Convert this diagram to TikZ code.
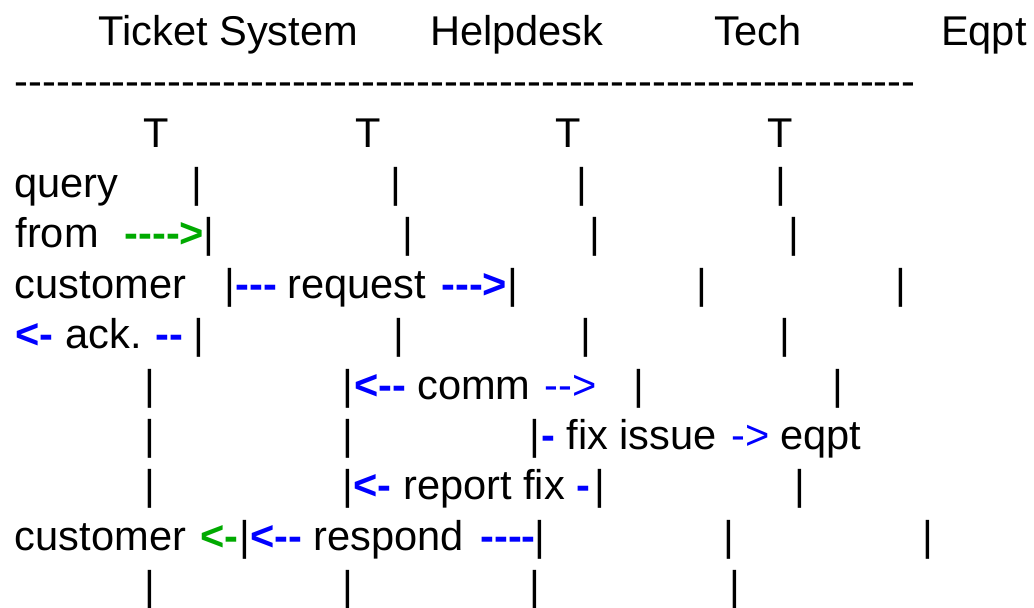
\documentclass[tikz,border=0pt]{standalone}
\usepackage{fontspec}
\setmainfont{Liberation Sans}[Ligatures=TeXOff]
\definecolor{ablue}{RGB}{0,0,255}
\definecolor{agreen}{RGB}{0,170,0}
\newcommand{\fsz}{\fontsize{41.6}{50}\selectfont}
\begin{document}
\begin{tikzpicture}[x=1pt,y=-1pt,
  every node/.style={inner sep=0pt,outer sep=0pt,font=\fsz},
  txt/.style={anchor=base west},
  vbar/.style={anchor=base},
  bluebold/.style={anchor=base west,text=ablue,font=\fsz\bfseries},
  bluethin/.style={anchor=base west,text=ablue},
  greenbold/.style={anchor=base west,text=agreen,font=\fsz\bfseries}]
\useasboundingbox (0,0) rectangle (1034,608);
% header
\node[txt] (hts) at (98.5,45) {Ticket System};
\node[txt] (hhd) at (430,45) {Helpdesk};
\node[txt] (hte) at (714,45) {Tech};
\node[txt] (heq) at (941,45) {Eqpt};
\node[txt] (rule) at (15,95) {-----------------------------------------------------------------};
% T row
\node[vbar] (t1) at (156.5,147) {T};
\node[vbar] (t2) at (368.7,147) {T};
\node[vbar] (t3) at (568.7,147) {T};
\node[vbar] (t4) at (780.3,147) {T};
% query row
\node[txt] (q0) at (14.5,197.4) {query};
\node[vbar] (q1) at (197,197.4) {|};
\node[vbar] (q2) at (395.5,197.4) {|};
\node[vbar] (q3) at (582,197.4) {|};
\node[vbar] (q4) at (781,197.4) {|};
% from row
\node[txt] (f0) at (15.5,247.8) {from};
\node[greenbold] (fa) at (124.5,247.8) {---->};
\node[vbar] (f1) at (209,247.8) {|};
\node[vbar] (f2) at (407.5,247.8) {|};
\node[vbar] (f3) at (595,247.8) {|};
\node[vbar] (f4) at (793.7,247.8) {|};
% customer row
\node[txt] (c0) at (15,298.2) {customer};
\node[vbar] (c1) at (229.5,298.2) {|};
\node[bluebold] (ca) at (235.3,298.2) {---};
\node[txt] (cr) at (287.3,298.2) {request};
\node[bluebold] (cb) at (441.3,298.2) {--->};
\node[vbar] (c2) at (513,298.2) {|};
\node[vbar] (c3) at (701.5,298.2) {|};
\node[vbar] (c4) at (900.5,298.2) {|};
% ack row
\node[bluebold] (aa) at (15.3,348.6) {<-};
\node[txt] (at) at (65.3,348.6) {ack.};
\node[bluebold] (ab) at (155.3,348.6) {--};
\node[vbar] (a1) at (199,348.6) {|};
\node[vbar] (a2) at (398.5,348.6) {|};
\node[vbar] (a3) at (585.5,348.6) {|};
\node[vbar] (a4) at (784.5,348.6) {|};
% comm row
\node[vbar] (m1) at (149.5,399) {|};
\node[vbar] (m2) at (347.5,399) {|};
\node[bluebold] (ma) at (354.5,399) {<--};
\node[txt] (mt) at (417.3,399) {comm};
\node[bluethin] (mb) at (544.5,399) {-->};
\node[vbar] (m3) at (639,399) {|};
\node[vbar] (m4) at (838,399) {|};
% fix row
\node[vbar] (x1) at (149.5,449.4) {|};
\node[vbar] (x2) at (347.5,449.4) {|};
\node[vbar] (x3) at (535,449.4) {|};
\node[bluebold] (xa) at (541.8,449.4) {-};
\node[txt] (xt) at (566.5,449.4) {fix issue};
\node[bluethin] (xb) at (731.3,449.4) {->};
\node[txt] (xe) at (780.3,449.4) {eqpt};
% report row
\node[vbar] (r1) at (149.5,499.8) {|};
\node[vbar] (r2) at (347.5,499.8) {|};
\node[txt] (rt) at (353.5,499.8) {\textcolor{ablue}{\bfseries <-} report fix \textcolor{ablue}{\bfseries -}};
\node[vbar] (r3) at (600,499.8) {|};
\node[vbar] (r4) at (800,499.8) {|};
% customer respond row
\node[txt] (s0) at (15,550.2) {customer};
\node[greenbold] (sa) at (200.3,550.2) {<-};
\node[vbar] (s1) at (245,550.2) {|};
\node[bluebold] (sb) at (250.3,550.2) {<--};
\node[txt] (st) at (313.5,550.2) {respond};
\node[bluebold] (sc) at (480.3,550.2) {----};
\node[vbar] (s2) at (540,550.2) {|};
\node[vbar] (s3) at (728.5,550.2) {|};
\node[vbar] (s4) at (928,550.2) {|};
% last row
\node[vbar] (l1) at (149.5,600.6) {|};
\node[vbar] (l2) at (347.5,600.6) {|};
\node[vbar] (l3) at (535,600.6) {|};
\node[vbar] (l4) at (734.5,600.6) {|};
\end{tikzpicture}
\end{document}
